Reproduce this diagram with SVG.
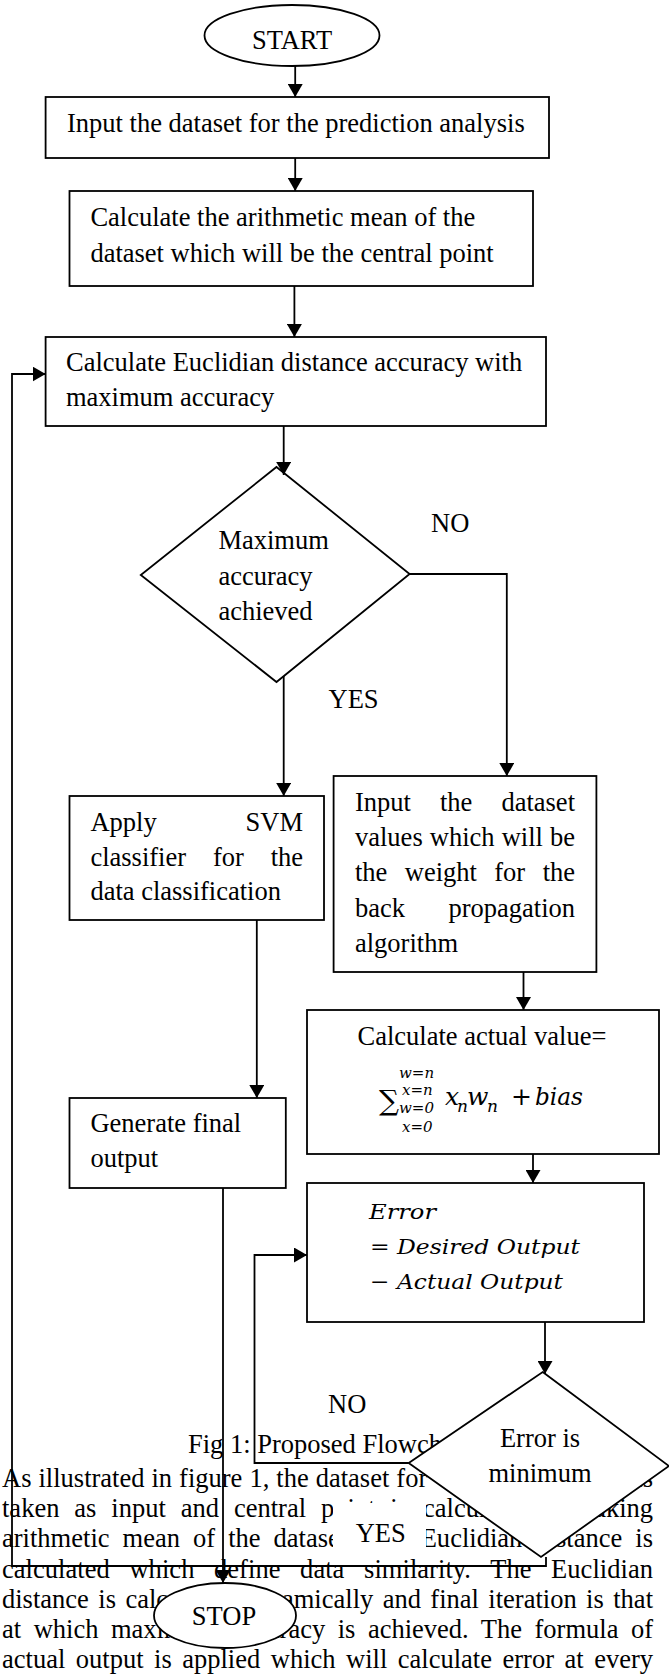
<svg xmlns="http://www.w3.org/2000/svg" width="669" height="1677" viewBox="0 0 669 1677">
<style>
.t{font-family:"Liberation Serif","Times New Roman",serif;font-size:26.5px;fill:#000}
.m{font-family:"DejaVu Serif",serif;font-style:italic;fill:#000}
.n{fill:#fff;stroke:#000;stroke-width:1.8}
.c{fill:none;stroke:#000;stroke-width:1.8}
</style>
<defs>
<marker id="ah" viewBox="0 0 13 15" refX="13" refY="7.5" markerUnits="userSpaceOnUse" markerWidth="13" markerHeight="15" orient="auto">
<path d="M0,0 L13,7.5 L0,15 z" fill="#000"/>
</marker>
</defs>
<rect width="669" height="1677" fill="#fff"/>
<g id="paragraph">
<text class="t" x="2" y="1487" word-spacing="0.4">As illustrated in figure 1, the dataset for</text>
<text class="t" x="653" y="1487" text-anchor="end">is</text>
<text class="t" x="2" y="1517" word-spacing="8.3" textLength="651" lengthAdjust="spacing">taken as input and central point is calculated by taking</text>
<text class="t" x="2" y="1547" word-spacing="6.4" textLength="651" lengthAdjust="spacing">arithmetic mean of the dataset. The Euclidian distance is</text>
<text class="t" x="2" y="1578" word-spacing="12.95" textLength="651" lengthAdjust="spacing">calculated which define data similarity. The Euclidian</text>
<text class="t" x="2" y="1608" word-spacing="2.8" textLength="651" lengthAdjust="spacing">distance is calculated dynamically and final iteration is that</text>
<text class="t" x="2" y="1638" word-spacing="5.85" textLength="651" lengthAdjust="spacing">at which maximum accuracy is achieved. The formula of</text>
<text class="t" x="2" y="1668" word-spacing="3.9" textLength="651" lengthAdjust="spacing">actual output is applied which will calculate error at every</text>
</g>
<g id="caption">
<text class="t" x="188" y="1453">Fig 1: Proposed Flowchart</text>
</g>
<g id="start">
<ellipse class="n" cx="292" cy="35.5" rx="87.5" ry="30.5"/>
<text class="t" x="292" y="49" text-anchor="middle" font-size="28.5">START</text>
</g>
<g id="input-dataset">
<rect class="n" x="45.6" y="97" width="503.4" height="61"/>
<text class="t" x="67" y="132">Input the dataset for the prediction analysis</text>
</g>
<g id="arith-mean">
<rect class="n" x="69.5" y="191" width="463.5" height="95"/>
<text class="t" x="90.4" y="226">Calculate the arithmetic mean of the</text>
<text class="t" x="90.4" y="262">dataset which will be the central point</text>
</g>
<g id="euclid">
<rect class="n" x="45.6" y="337" width="500.4" height="89"/>
<text class="t" x="66" y="371">Calculate Euclidian distance accuracy with</text>
<text class="t" x="66" y="406">maximum accuracy</text>
</g>
<g id="max-acc">
<polygon class="n" points="276.5,467 409.6,574 276.5,682 140.8,575"/>
<text class="t" x="218.4" y="549">Maximum</text>
<text class="t" x="218.4" y="585">accuracy</text>
<text class="t" x="218.4" y="620">achieved</text>
</g>
<g id="svm">
<rect class="n" x="69.5" y="796" width="254.5" height="124"/>
<text class="t" x="90.4" y="831">Apply</text>
<text class="t" x="303" y="831" text-anchor="end">SVM</text>
<text class="t" y="866"><tspan x="90.4">classifier</tspan><tspan x="212.9">for</tspan><tspan x="303" text-anchor="end">the</tspan></text>
<text class="t" x="90.4" y="900">data classification</text>
</g>
<g id="weights">
<rect class="n" x="333.6" y="776" width="262.8" height="196"/>
<text class="t" y="811"><tspan x="355">Input</tspan><tspan x="440">the</tspan><tspan x="575" text-anchor="end">dataset</tspan></text>
<text class="t" y="846"><tspan x="355">values</tspan><tspan x="429.8">which</tspan><tspan x="501.7">will</tspan><tspan x="575" text-anchor="end">be</tspan></text>
<text class="t" y="881"><tspan x="355">the</tspan><tspan x="404.8">weight</tspan><tspan x="494.3">for</tspan><tspan x="575" text-anchor="end">the</tspan></text>
<text class="t" y="917"><tspan x="355">back</tspan><tspan x="575" text-anchor="end">propagation</tspan></text>
<text class="t" x="355" y="952">algorithm</text>
</g>
<g id="actual-value">
<rect class="n" x="307" y="1010" width="352" height="144"/>
<text class="t" x="357.5" y="1045">Calculate actual value=</text>
<text font-family="DejaVu Serif, serif" font-size="28" x="379" y="1110">∑</text>
<text class="m" font-size="15" x="399" y="1078">w=n</text>
<text class="m" font-size="15" x="402" y="1095">x=n</text>
<text class="m" font-size="15" x="399" y="1113">w=0</text>
<text class="m" font-size="15" x="402" y="1132">x=0</text>
<text class="m" font-size="25" x="445" y="1105">x</text>
<text class="m" font-size="17" x="457" y="1112">n</text>
<text class="m" font-size="25" x="467" y="1105">w</text>
<text class="m" font-size="17" x="487" y="1112">n</text>
<text font-family="DejaVu Serif, serif" font-size="25" x="511" y="1105">+</text>
<text class="m" font-size="25" x="535" y="1105" textLength="48" lengthAdjust="spacingAndGlyphs">bias</text>
</g>
<g id="final-output">
<rect class="n" x="69.5" y="1098" width="216.3" height="90"/>
<text class="t" x="90.4" y="1132">Generate final</text>
<text class="t" x="90.4" y="1167">output</text>
</g>
<g id="error">
<rect class="n" x="307" y="1183" width="337" height="139"/>
<text class="m" font-size="21" x="369" y="1219" textLength="67" lengthAdjust="spacingAndGlyphs">Error</text>
<text class="m" font-size="21" x="370" y="1254" textLength="210" lengthAdjust="spacingAndGlyphs">= Desired Output</text>
<text class="m" font-size="21" x="370" y="1289" textLength="193" lengthAdjust="spacingAndGlyphs">− Actual Output</text>
</g>
<g id="error-min">
<polygon class="n" points="542.7,1372 669,1466 541,1557 408.7,1463"/>
<text class="t" x="540" y="1447" text-anchor="middle">Error is</text>
<text class="t" x="540" y="1482" text-anchor="middle">minimum</text>
</g>
<g id="stop">
<ellipse class="n" cx="225" cy="1615.5" rx="71" ry="32.5"/>
<text class="t" x="224" y="1625" text-anchor="middle">STOP</text>
</g>
<g id="labels">
<text class="t" x="431" y="532">NO</text>
<text class="t" x="328.5" y="708">YES</text>
<text class="t" x="328" y="1413">NO</text>
<rect x="333" y="1503" width="93" height="55" fill="#fff"/>
<text class="t" x="355.7" y="1542">YES</text>
</g>
<g id="connectors">
<path class="c" d="M295.2,66 V97" marker-end="url(#ah)"/>
<path class="c" d="M295.2,158 V191" marker-end="url(#ah)"/>
<path class="c" d="M294.4,286 V337" marker-end="url(#ah)"/>
<path class="c" d="M283.7,426 V475" marker-end="url(#ah)"/>
<path class="c" d="M283.7,676 V796" marker-end="url(#ah)"/>
<path class="c" d="M409.6,574 H506.8 V776" marker-end="url(#ah)"/>
<path class="c" d="M256.8,920 V1098" marker-end="url(#ah)"/>
<path class="c" d="M523.5,972 V1010" marker-end="url(#ah)"/>
<path class="c" d="M533,1154 V1183" marker-end="url(#ah)"/>
<path class="c" d="M223,1188 V1583" marker-end="url(#ah)"/>
<path class="c" d="M545,1322 V1374" marker-end="url(#ah)"/>
<path class="c" d="M408.7,1463 H254.5 V1255 H307" marker-end="url(#ah)"/>
<path class="c" d="M546,1557 V1566 H12 V374 H45.6" marker-end="url(#ah)"/>
</g>
</svg>
